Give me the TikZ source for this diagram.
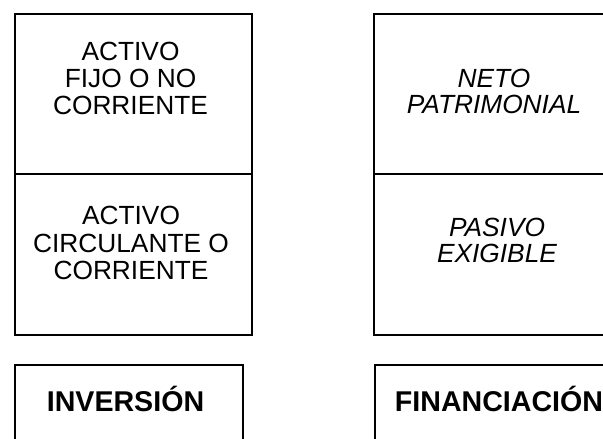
\documentclass[tikz,border=0pt]{standalone}
\usepackage{fontspec}
\setmainfont{Liberation Sans}
\begin{document}
\begin{tikzpicture}[x=1pt,y=-1pt,
  boxline/.style={draw,line width=2.2pt},
  lbl/.style={inner sep=0pt,align=center,font=\fontsize{26.3}{27.3}\selectfont},
  ilbl/.style={lbl,font=\fontsize{26.3}{26.3}\selectfont\itshape},
  blbl/.style={inner sep=0pt,anchor=base,font=\fontsize{28.6}{28.6}\selectfont\bfseries}]
\useasboundingbox (0,0) rectangle (603,439);
\clip (0,0) rectangle (603,439);
% left tall box
\node[boxline,minimum width=237.5pt,minimum height=320.5pt,inner sep=0pt,anchor=north west] (act) at (13.5,13) {};
\coordinate (dl) at (13.5,174);
\coordinate (dr) at (251,174);
\draw[line width=2.2pt] (dl) -- (dr);
% right tall box
\node[boxline,minimum width=244pt,minimum height=320.5pt,inner sep=0pt,anchor=north west] (pas) at (373,13) {};
\coordinate (el) at (373,174);
\coordinate (er) at (617,174);
\draw[line width=2.2pt] (el) -- (er);
% bottom boxes
\node[boxline,minimum width=228.5pt,minimum height=100pt,inner sep=0pt,anchor=north west] (inv) at (13.5,363.5) {};
\node[boxline,minimum width=250pt,minimum height=100pt,inner sep=0pt,anchor=north west] (fin) at (374,363.5) {};
% texts
\node[lbl] (t1) at (130.5,78.3) {ACTIVO\\FIJO O NO\\CORRIENTE};
\node[lbl] (t2) at (131,243) {ACTIVO\\CIRCULANTE O\\CORRIENTE};
\node[ilbl] (t3) at (494,91.7) {NETO\\PATRIMONIAL};
\node[ilbl] (t4) at (497,240.7) {PASIVO\\EXIGIBLE};
\node[blbl] (t5) at (125.5,411.7) {INVERSIÓN};
\node[blbl] (t6) at (499,411.7) {FINANCIACIÓN};
\end{tikzpicture}
\end{document}
